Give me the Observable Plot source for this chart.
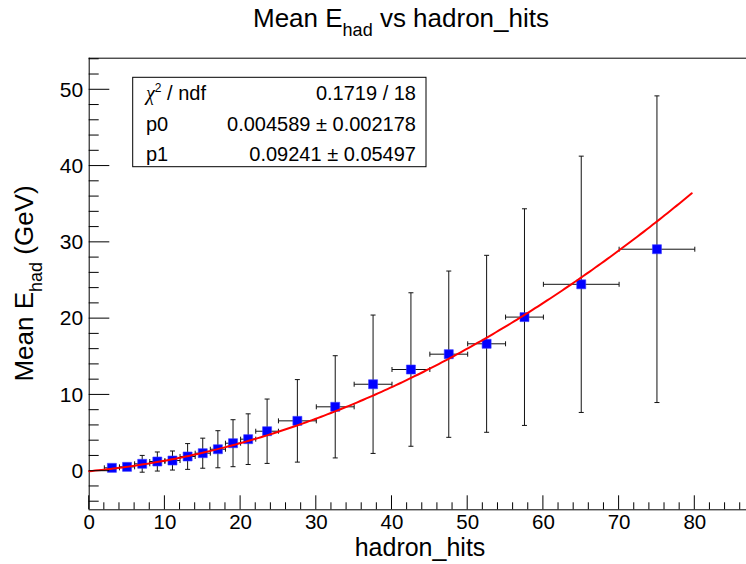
<!DOCTYPE html>
<html><head><meta charset="utf-8">
<script src="https://cdn.jsdelivr.net/npm/d3@7"></script>
<script src="https://cdn.jsdelivr.net/npm/@observablehq/plot@0.6"></script>
<style>body{margin:0;background:#fff;} svg{display:block;}</style>
</head><body><div id="chart"></div>
<script>
// ---- data ----
const hits      = [3,5,7,9,11,13,15,17,19,21,23.5,27.5,32.5,37.5,42.5,47.5,52.5,57.5,65,75];
const hitsErr   = [1,1,1,1,1,1,1,1,1,1,1.5,2.5,2.5,2.5,2.5,2.5,2.5,2.5,5,5];
const meanE     = [0.44,0.57,0.97,1.27,1.40,1.93,2.36,2.88,3.67,4.20,5.24,6.6,8.44,11.4,13.33,15.34,16.7,20.2,24.5,29.1];
const meanEErr  = [0.35,0.45,1.1,1.25,1.25,1.69,1.97,2.43,3.08,3.32,4.22,5.41,6.7,9.07,10.06,10.9,11.6,14.2,16.8,20.1];
const fitP0 = 0.004589, fitP1 = 0.09241;
const fitRange = [0, 79.6];
const xTicks = [0,10,20,30,40,50,60,70,80];
const yTicks = [0,10,20,30,40,50];
const xDomain = [0, 86.83];
const yDomain = [-5.06, 54.14];
const statsRows = [
  {label: "χ2 / ndf", value: "0.1719 / 18"},
  {label: "p0", value: "0.004589 ± 0.002178"},
  {label: "p1", value: "0.09241 ± 0.05497"}
];

const points = hits.map((x, i) => ({x, xe: hitsErr[i], y: meanE[i], ye: meanEErr[i]}));
const fitCurve = d3.range(0, 201).map(i => {
  const x = fitRange[0] + (fitRange[1] - fitRange[0]) * i / 200;
  return {x, y: fitP0 * x * x + fitP1 * x};
});

const hCap = {draw(ctx, size) { const r = Math.sqrt(size / Math.PI); ctx.moveTo(-r, 0); ctx.lineTo(r, 0); }};
const vCap = {draw(ctx, size) { const r = Math.sqrt(size / Math.PI); ctx.moveTo(0, -r); ctx.lineTo(0, r); }};

const capsV = points.flatMap(d => [{x: d.x, y: d.y - d.ye}, {x: d.x, y: d.y + d.ye}]);
const capsH = points.flatMap(d => [{x: d.x - d.xe, y: d.y}, {x: d.x + d.xe, y: d.y}]);

const FONT = "Liberation Sans, Arial, Helvetica, sans-serif";

const plot = Plot.plot({
  width: 746, height: 564,
  marginLeft: 88.7, marginRight: 0, marginTop: 57.7, marginBottom: 54.7,
  style: {fontFamily: FONT, background: "#fff", color: "#000", overflow: "visible"},
  x: {domain: xDomain},
  y: {domain: yDomain},
  marks: [
    Plot.axisX({ticks: xTicks, tickSize: 0, tickPadding: 5, fontSize: 20.5, label: null, tickFormat: d3.format("d")}),
    Plot.axisY({ticks: yTicks, tickSize: 0, tickPadding: 6, fontSize: 21, label: null, tickFormat: d3.format("d")}),
    Plot.ruleX([xDomain[0]], {stroke: "#000", strokeWidth: 1}),
    Plot.ruleY([yDomain[0], yDomain[1]], {stroke: "#000", strokeWidth: 1}),
    Plot.link(points, {x1: d => d.x - d.xe, x2: d => d.x + d.xe, y1: "y", y2: "y", stroke: "#111", strokeWidth: 1}),
    Plot.link(points, {x1: "x", x2: "x", y1: d => d.y - d.ye, y2: d => d.y + d.ye, stroke: "#111", strokeWidth: 1}),
    Plot.dot(capsV, {x: "x", y: "y", r: 2.5, symbol: hCap, stroke: "#111", fill: "none", strokeWidth: 1}),
    Plot.dot(capsH, {x: "x", y: "y", r: 2.5, symbol: vCap, stroke: "#111", fill: "none", strokeWidth: 1}),
    Plot.dot(points, {x: "x", y: "y", r: 5.08, symbol: "square", fill: "#0000ff", stroke: "#3a3aff", strokeWidth: 0.6}),
    Plot.line(fitCurve, {x: "x", y: "y", stroke: "#ff0000", strokeWidth: 2, curve: "linear"})
  ]
});

document.getElementById("chart").appendChild(plot);

const sx = plot.scale("x"), sy = plot.scale("y");
const svg = d3.select(plot);
const left = sx.apply(xDomain[0]);
const bottom = sy.apply(yDomain[0]);

// ROOT-style inward ticks
const tg = svg.append("g").attr("stroke", "#000").attr("stroke-width", 1);
d3.range(0, xDomain[1], 2).forEach(v => {
  const len = v % 10 === 0 ? 14 : 7;
  const px = sx.apply(v);
  tg.append("line").attr("x1", px).attr("x2", px).attr("y1", bottom).attr("y2", bottom - len);
});
d3.range(-4, yDomain[1], 2).forEach(v => {
  const len = v % 10 === 0 ? 20.6 : 10;
  const py = sy.apply(v);
  tg.append("line").attr("x1", left).attr("x2", left + len).attr("y1", py).attr("y2", py);
});

// Title
const title = svg.append("text").attr("x", 253).attr("y", 27.3).attr("text-anchor", "start")
  .attr("font-family", FONT).attr("font-size", 26).attr("fill", "#000");
title.append("tspan").text("Mean E");
title.append("tspan").attr("font-size", 18).attr("dy", 9).text("had");
title.append("tspan").attr("dy", -9).text(" vs hadron_hits");

// X axis title
svg.append("text").attr("x", 420).attr("y", 555.5).attr("text-anchor", "middle")
  .attr("font-family", FONT).attr("font-size", 25).attr("fill", "#000").text("hadron_hits");

// Y axis title
const yt = svg.append("text").attr("transform", `translate(33,${(sy.apply(yDomain[0]) + sy.apply(yDomain[1])) / 2}) rotate(-90)`)
  .attr("text-anchor", "middle").attr("font-family", FONT).attr("font-size", 26).attr("fill", "#000");
yt.append("tspan").text("Mean E");
yt.append("tspan").attr("font-size", 18).attr("dy", 9).text("had");
yt.append("tspan").attr("dy", -9).text(" (GeV)");

// Stats box
const box = svg.append("g").attr("font-family", FONT).attr("font-size", 20).attr("fill", "#000");
box.append("rect").attr("x", 132.7).attr("y", 77.3).attr("width", 293.3).attr("height", 89.4)
  .attr("fill", "#fff").attr("stroke", "#000").attr("stroke-width", 1);
const rowY = [100, 130.5, 160.5];
statsRows.forEach((r, i) => {
  const lt = box.append("text").attr("x", 146).attr("y", rowY[i]).attr("text-anchor", "start");
  if (r.label.startsWith("χ2")) {
    lt.append("tspan").attr("font-family", "Liberation Serif, DejaVu Serif, serif").attr("font-style", "italic").text("χ");
    lt.append("tspan").attr("font-size", 12).attr("dy", -8).text("2");
    lt.append("tspan").attr("dy", 8).text(" / ndf");
  } else {
    lt.text(r.label);
  }
  box.append("text").attr("x", 416).attr("y", rowY[i]).attr("text-anchor", "end").text(r.value);
});
</script>
</body></html>
